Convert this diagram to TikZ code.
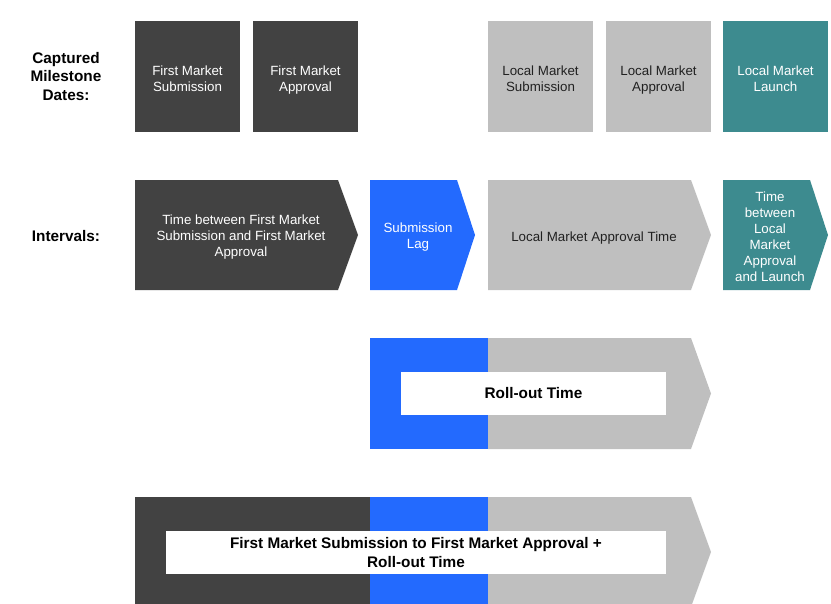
\documentclass[tikz,border=0pt]{standalone}
\usepackage{fontspec}
\setmainfont{Liberation Sans}

\definecolor{darkgrey}{HTML}{424242}
\definecolor{lagblue}{HTML}{236AFE}
\definecolor{lightgrey}{HTML}{BFBFBF}
\definecolor{launchteal}{HTML}{3D8B8F}

\tikzset{every picture/.style={line width=0.75pt}}
\tikzset{
  milestone/.style={minimum width=105*0.75pt, minimum height=111*0.75pt, inner sep=0pt, align=center, font=\fontsize{10}{12}\selectfont, text height=26.4pt, text depth=3.6pt},
  intervaltxt/.style={align=center, inner sep=0pt, font=\fontsize{10}{12}\selectfont, execute at begin node=\strut, execute at end node=\strut},
  rowlabel/.style={align=center, inner sep=0pt, font=\fontsize{11.5}{14}\selectfont\bfseries},
  whitebar/.style={fill=white, inner sep=0pt, align=center, font=\fontsize{11.5}{14}\selectfont\bfseries}
}

\begin{document}
\begin{tikzpicture}[x=0.75pt,y=0.75pt,yscale=-1,xscale=1]
\useasboundingbox (0,0) rectangle (831,603);
\clip (0,0) rectangle (831,603);

%Text Node
\node[rowlabel] (capturedlbl) at (66,76.5) {Captured\\Milestone\\Dates:};
%Text Node
\node[rowlabel] (intervalslbl) at (66,236) {Intervals:};

%Shape: Rectangle
\node[milestone, fill=darkgrey, text=white] (fmsub) at (187.5,76.5) {First Market\\Submission};
%Shape: Rectangle
\node[milestone, fill=darkgrey, text=white] (fmapp) at (305.5,76.5) {First Market\\Approval};
%Shape: Rectangle
\node[milestone, fill=lightgrey, text=black!87] (lmsub) at (540.5,76.5) {Local Market\\Submission};
%Shape: Rectangle
\node[milestone, fill=lightgrey, text=black!87] (lmapp) at (658.5,76.5) {Local Market\\Approval};
%Shape: Rectangle
\node[milestone, fill=launchteal, text=white] (lmlaunch) at (775.5,76.5) {Local Market\\Launch};

%Shape: Chevron
\fill[darkgrey] (135,180) -- (338,180) -- (358,235) -- (338,290) -- (135,290) -- cycle ;
\node[intervaltxt, text=white] (fmtime) at (241,238) {Time between First Market\\Submission and First Market\\Approval};
%Shape: Chevron
\fill[lagblue] (370,180) -- (457,180) -- (475,235) -- (457,290) -- (370,290) -- cycle ;
\node[intervaltxt, text=white] (lagtxt) at (418,238) {Submission\\Lag};
%Shape: Chevron
\fill[lightgrey] (488,180) -- (691,180) -- (711,235) -- (691,290) -- (488,290) -- cycle ;
\node[intervaltxt, text=black!87] (lmtime) at (594,238) {Local Market Approval Time};
%Shape: Chevron
\fill[launchteal] (723,180) -- (810,180) -- (828,235) -- (810,290) -- (723,290) -- cycle ;
\node[intervaltxt, text=white] (launchtime) at (770,239) {Time\\between\\Local\\Market\\Approval\\and Launch};

%Shape: Rectangle
\fill[lagblue] (370,338) -- (488,338) -- (488,449) -- (370,449) -- cycle ;
%Shape: Chevron
\fill[lightgrey] (488,338) -- (691,338) -- (711,393.5) -- (691,449) -- (488,449) -- cycle ;
%Shape: Rectangle
\node[whitebar, minimum width=265*0.75pt, minimum height=43*0.75pt] (rollout) at (533.5,393.5) {Roll-out Time};

%Shape: Rectangle
\fill[darkgrey] (135,497) -- (370,497) -- (370,607) -- (135,607) -- cycle ;
%Shape: Rectangle
\fill[lagblue] (370,497) -- (488,497) -- (488,607) -- (370,607) -- cycle ;
%Shape: Chevron
\fill[lightgrey] (488,497) -- (691,497) -- (711,552) -- (691,607) -- (488,607) -- cycle ;
%Shape: Rectangle
\node[whitebar, minimum width=500*0.75pt, minimum height=43.5*0.75pt] (total) at (416,552.25) {First Market Submission to First Market Approval +\\Roll-out Time};

\end{tikzpicture}
\end{document}
